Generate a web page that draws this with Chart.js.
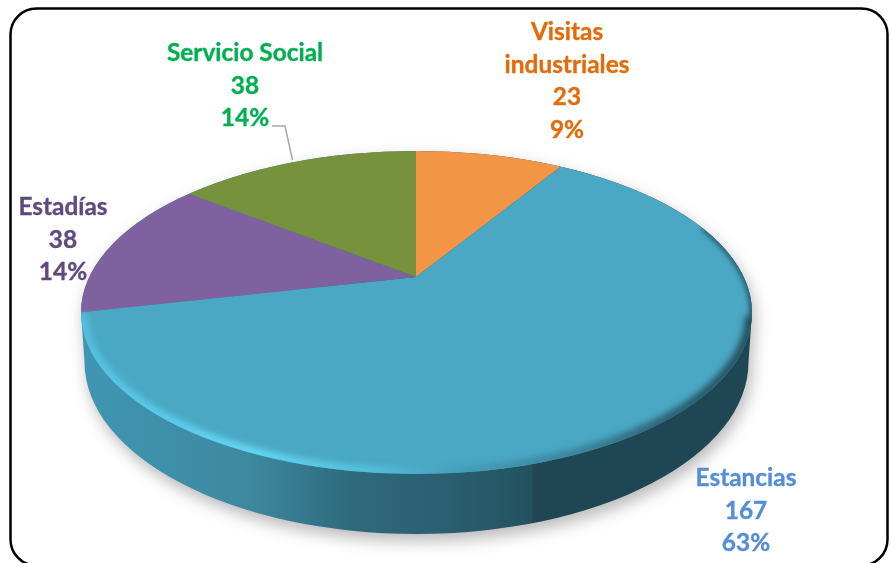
<!DOCTYPE html>
<html>
<head>
<meta charset="utf-8">
<style>html,body{margin:0;padding:0;background:#fff}canvas{display:block}</style>
<script src="https://cdn.jsdelivr.net/npm/chart.js@4"></script>
</head>
<body>
<canvas id="c" width="891" height="563"></canvas>
<script>
const categories = ['Visitas industriales', 'Estancias', 'Estadías', 'Servicio Social'];
const values = [23, 167, 38, 38];
const percents = ['9%', '63%', '14%', '14%'];
const sliceColors = ['#f29545', '#4aa8c4', '#7f61a0', '#76923c'];
const labelColors = ['#e36c0a', '#558ed5', '#604a7b', '#00b050'];
const labelLines = [['Visitas', 'industriales'], ['Estancias'], ['Estadías'], ['Servicio Social']];
const labelAnchors = [[567, 32], [746, 478], [63, 207], [245, 53]];

const TOP = {x: 416.5, y: 312.5, rx: 335.5, ry: 161.5};
const BOTTOM = {x: 416.5, y: 362, rx: 332, ry: 172};
const APEX = {x: 416, y: 277};
const TILT = 0.46;

function stops(g, list) { list.forEach(([o, c]) => g.addColorStop(o, c)); return g; }

const pie3d = {
  id: 'pie3d',
  beforeDraw(chart) {
    const ctx = chart.ctx;
    ctx.save();
    ctx.fillStyle = '#fff';
    ctx.fillRect(0, 0, 891, 563);
    ctx.beginPath();
    ctx.roundRect(10.5, 8.5, 877, 557, 26);
    ctx.lineWidth = 2.5;
    ctx.strokeStyle = '#000';
    ctx.stroke();
    ctx.restore();
  },
  beforeDatasetsDraw(chart) {
    const ctx = chart.ctx;
    const wall = () => {
      ctx.beginPath();
      ctx.ellipse(TOP.x, TOP.y, TOP.rx, TOP.ry, 0, Math.PI, 0, false);
      ctx.lineTo(BOTTOM.x + BOTTOM.rx, BOTTOM.y);
      ctx.ellipse(BOTTOM.x, BOTTOM.y, BOTTOM.rx, BOTTOM.ry, 0, 0, Math.PI, false);
      ctx.closePath();
    };
    const grad = stops(ctx.createLinearGradient(81, 0, 752, 0), [
      [0, '#4096b3'], [0.25, '#3d89a0'], [0.4, '#2f6a7c'], [0.55, '#2a5f70'],
      [0.67, '#23525f'], [0.675, '#1f4653'], [1, '#1f4653']
    ]);
    ctx.save();
    ctx.shadowColor = 'rgba(0,0,0,0.28)';
    ctx.shadowBlur = 16;
    ctx.shadowOffsetX = 3;
    ctx.shadowOffsetY = 7;
    wall();
    ctx.fillStyle = grad;
    ctx.fill();
    ctx.restore();

    ctx.save();
    ctx.beginPath();
    ctx.ellipse(TOP.x, TOP.y, TOP.rx, TOP.ry, 0, 0, Math.PI * 2);
    ctx.clip();
    const arc0 = chart.getDatasetMeta(0).data[0];
    ctx.translate(APEX.x, APEX.y);
    ctx.scale(1, TILT);
    ctx.translate(-arc0.x, -arc0.y);
  },
  afterDatasetsDraw(chart) {
    const ctx = chart.ctx;
    ctx.restore();
    // bevel along the front rim
    ctx.save();
    ctx.beginPath();
    ctx.ellipse(TOP.x, TOP.y, TOP.rx, TOP.ry, 0, 0, Math.PI * 2);
    ctx.clip();
    const rim = stops(ctx.createLinearGradient(81, 0, 752, 0), [
      [0, '#55bfdc'], [0.07, '#58c8e6'], [0.25, '#62d8f5'], [0.45, '#52bcd8'],
      [0.55, '#46a0ba'], [0.75, '#3a8099'], [0.88, '#2c5f70'], [1, '#24505e']
    ]);
    ctx.strokeStyle = rim;
    ctx.filter = 'blur(2.5px)';
    ctx.lineWidth = 5;
    ctx.beginPath();
    ctx.ellipse(TOP.x, TOP.y, TOP.rx, TOP.ry, 0, -0.55, 0.1, false);
    ctx.stroke();
    ctx.filter = 'blur(3px)';
    ctx.lineWidth = 11;
    ctx.beginPath();
    ctx.ellipse(TOP.x, TOP.y, TOP.rx - 1, TOP.ry - 1, 0, 0.02, Math.PI - 0.01, false);
    ctx.stroke();
    ctx.restore();
    // leader line
    ctx.save();
    ctx.strokeStyle = '#a6a6a6';
    ctx.lineWidth = 1.5;
    ctx.beginPath();
    ctx.moveTo(272, 126);
    ctx.lineTo(285, 126);
    ctx.lineTo(292.5, 160);
    ctx.stroke();
    ctx.restore();
    // data labels
    ctx.save();
    ctx.font = 'bold 24.4px Lato';
    ctx.textAlign = 'center';
    ctx.textBaseline = 'middle';
    ctx.lineWidth = 0.35;
    categories.forEach((_, i) => {
      const lines = [...labelLines[i], String(values[i]), percents[i]];
      ctx.fillStyle = labelColors[i];
      ctx.strokeStyle = labelColors[i];
      lines.forEach((t, j) => {
        const y = labelAnchors[i][1] + j * 32.7;
        ctx.fillText(t, labelAnchors[i][0], y);
        ctx.strokeText(t, labelAnchors[i][0], y);
      });
    });
    ctx.restore();
  }
};

new Chart(document.getElementById('c'), {
  type: 'pie',
  data: {
    labels: categories,
    datasets: [{
      data: values,
      backgroundColor: sliceColors,
      borderWidth: 0,
      radius: 1000,
      clip: false
    }]
  },
  options: {
    responsive: false,
    animation: false,
    layout: {padding: 0},
    plugins: {legend: {display: false}, tooltip: {enabled: false}}
  },
  plugins: [pie3d]
});
</script>
</body>
</html>
